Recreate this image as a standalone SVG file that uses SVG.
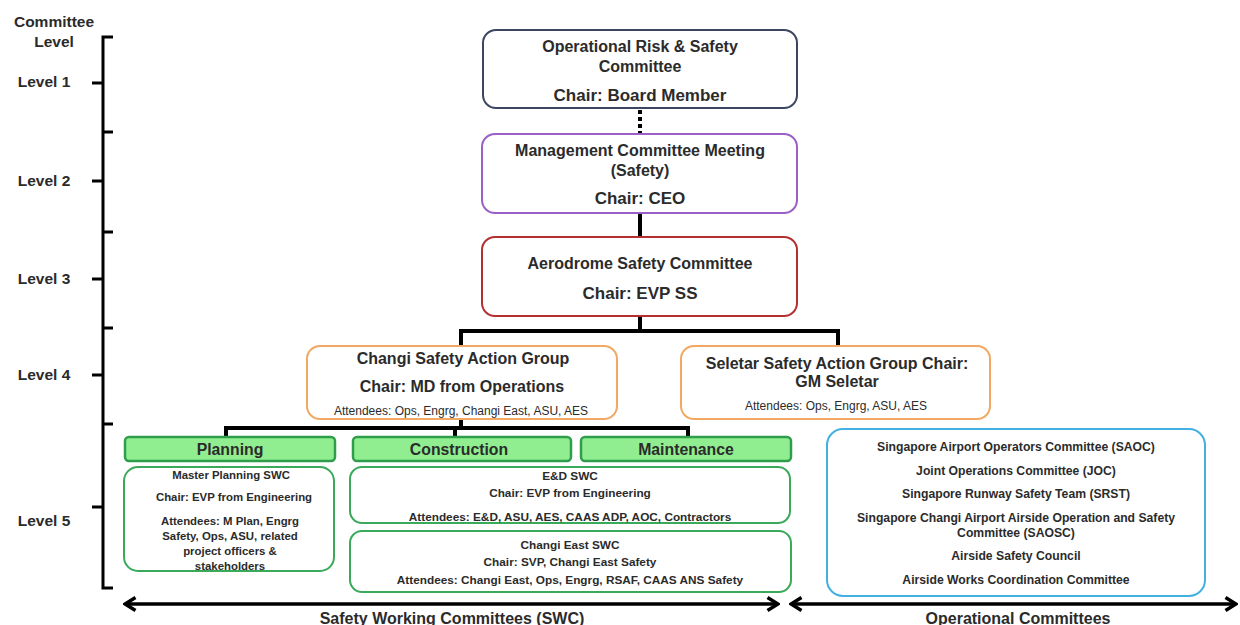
<svg xmlns="http://www.w3.org/2000/svg" width="1240" height="625" viewBox="0 0 1240 625">
<defs>
<marker id="ah" viewBox="0 0 14 16" markerWidth="14" markerHeight="16" refX="12" refY="8" orient="auto-start-reverse" markerUnits="userSpaceOnUse">
<polyline points="1.5,1.5 12,8 1.5,14.5" fill="none" stroke="#000" stroke-width="3.5"/>
</marker>
</defs>
<style>
text{font-family:"Liberation Sans",Arial,sans-serif;font-weight:bold;fill:#2b2b2b;text-anchor:middle}
.lvl{font-size:15.5px}
.t{font-size:16px}
.c{font-size:17px}
.s{font-size:12px;font-weight:normal}
.mp{font-size:11.4px}
.ed{font-size:11.8px}
.op{font-size:12.2px}
.hd{font-size:15.8px}
.ax{font-size:16px}
.box{fill:#fff;stroke-width:2}
.green{fill:#fff;stroke:#3aa95a;stroke-width:2}
.hdr{fill:#90ee90;stroke:#2f9e4c;stroke-width:2.5}
.ln{fill:none;stroke:#000;stroke-width:4}
.br{fill:none;stroke:#000;stroke-width:3}
</style>
<rect width="1240" height="625" fill="#fff"/>

<g id="levels">
<text class="lvl" x="54" y="27">Committee</text>
<text class="lvl" x="54" y="47">Level</text>
<text class="lvl" x="44" y="87">Level 1</text>
<text class="lvl" x="44" y="186">Level 2</text>
<text class="lvl" x="44" y="284">Level 3</text>
<text class="lvl" x="44" y="380">Level 4</text>
<text class="lvl" x="44" y="526">Level 5</text>
<path class="br" d="M113,37 H103 V588 H113 M103,132 H113 M103,232 H113 M103,328 H113 M103,424 H113 M92,83 H103 M92,181 H103 M92,279 H103 M92,375 H103 M92,507 H103"/>
</g>

<g id="connectors">
<line x1="640" y1="110" x2="640" y2="133" stroke="#000" stroke-width="4" stroke-dasharray="4,3"/>
<line class="ln" x1="640" y1="213" x2="640" y2="237"/>
<path class="ln" d="M640,316 V331 M461,346 V331 H838 V346"/>
<path class="ln" d="M461,419 V428 M226,437 V428 H688 V437 M455,428 V437"/>
<line x1="125" y1="604" x2="778" y2="604" stroke="#000" stroke-width="3.5" marker-start="url(#ah)" marker-end="url(#ah)"/>
<line x1="791" y1="604" x2="1236" y2="604" stroke="#000" stroke-width="3.5" marker-start="url(#ah)" marker-end="url(#ah)"/>
</g>

<g id="orsc">
<rect class="box" x="483" y="30" width="314" height="78" rx="13" stroke="#3b4660"/>
<text class="t" x="640" y="52">Operational Risk &amp; Safety</text>
<text class="t" x="640" y="72">Committee</text>
<text class="c" x="640" y="101">Chair: Board Member</text>
</g>

<g id="mcm">
<rect class="box" x="482" y="134" width="315" height="79" rx="13" stroke="#9b5fc8"/>
<text class="t" x="640" y="156">Management Committee Meeting</text>
<text class="t" x="640" y="176">(Safety)</text>
<text class="c" x="640" y="204">Chair: CEO</text>
</g>

<g id="asc">
<rect class="box" x="482" y="237" width="315" height="79" rx="13" stroke="#b43030"/>
<text class="t" x="640" y="269">Aerodrome Safety Committee</text>
<text class="c" x="640" y="299">Chair: EVP SS</text>
</g>

<g id="csag">
<rect class="box" x="307" y="346" width="310" height="73" rx="13" stroke="#f2a862"/>
<text class="t" x="463" y="364">Changi Safety Action Group</text>
<text class="t" x="462" y="392">Chair: MD from Operations</text>
<text class="s" x="461" y="415">Attendees: Ops, Engrg, Changi East, ASU, AES</text>
</g>

<g id="ssag">
<rect class="box" x="681" y="346" width="309" height="73" rx="13" stroke="#f2a862"/>
<text class="t" x="837" y="369">Seletar Safety Action Group Chair:</text>
<text class="t" x="837" y="387">GM Seletar</text>
<text class="s" x="836" y="410">Attendees: Ops, Engrg, ASU, AES</text>
</g>

<g id="planning">
<rect class="hdr" x="125" y="437" width="210" height="24" rx="4"/>
<text class="hd" x="230" y="455">Planning</text>
</g>
<g id="construction">
<rect class="hdr" x="353" y="437" width="218" height="24" rx="4"/>
<text class="hd" x="459" y="455">Construction</text>
</g>
<g id="maintenance">
<rect class="hdr" x="581" y="437" width="210" height="24" rx="4"/>
<text class="hd" x="686" y="455">Maintenance</text>
</g>

<g id="mpswc">
<rect class="green" x="124" y="467" width="210" height="104" rx="14"/>
<text class="mp" x="231" y="479">Master Planning SWC</text>
<text class="mp" x="234" y="501">Chair: EVP from Engineering</text>
<text class="mp" x="230" y="525">Attendees: M Plan, Engrg</text>
<text class="mp" x="230" y="540">Safety, Ops, ASU, related</text>
<text class="mp" x="230" y="555">project officers &amp;</text>
<text class="mp" x="230" y="570">stakeholders</text>
</g>

<g id="edswc">
<rect class="green" x="350" y="467" width="440" height="56" rx="12"/>
<text class="ed" x="570" y="480">E&amp;D SWC</text>
<text class="ed" x="570" y="497">Chair: EVP from Engineering</text>
<text class="ed" x="570" y="521">Attendees: E&amp;D, ASU, AES, CAAS ADP, AOC, Contractors</text>
</g>

<g id="ceswc">
<rect class="green" x="350" y="531" width="441" height="61" rx="12"/>
<text class="ed" x="570" y="549">Changi East SWC</text>
<text class="ed" x="570" y="566">Chair: SVP, Changi East Safety</text>
<text class="ed" x="570" y="584">Attendees: Changi East, Ops, Engrg, RSAF, CAAS ANS Safety</text>
</g>

<g id="opcom">
<rect class="box" x="827" y="429" width="378" height="167" rx="16" stroke="#42b0e0"/>
<text class="op" x="1016" y="451">Singapore Airport Operators Committee (SAOC)</text>
<text class="op" x="1016" y="475">Joint Operations Committee (JOC)</text>
<text class="op" x="1016" y="498">Singapore Runway Safety Team (SRST)</text>
<text class="op" x="1016" y="522">Singapore Changi Airport Airside Operation and Safety</text>
<text class="op" x="1016" y="537">Committee (SAOSC)</text>
<text class="op" x="1016" y="560">Airside Safety Council</text>
<text class="op" x="1016" y="584">Airside Works Coordination Committee</text>
</g>

<g id="axis-labels">
<text class="ax" x="452" y="624">Safety Working Committees (SWC)</text>
<text class="ax" x="1018" y="624">Operational Committees</text>
</g>
</svg>
